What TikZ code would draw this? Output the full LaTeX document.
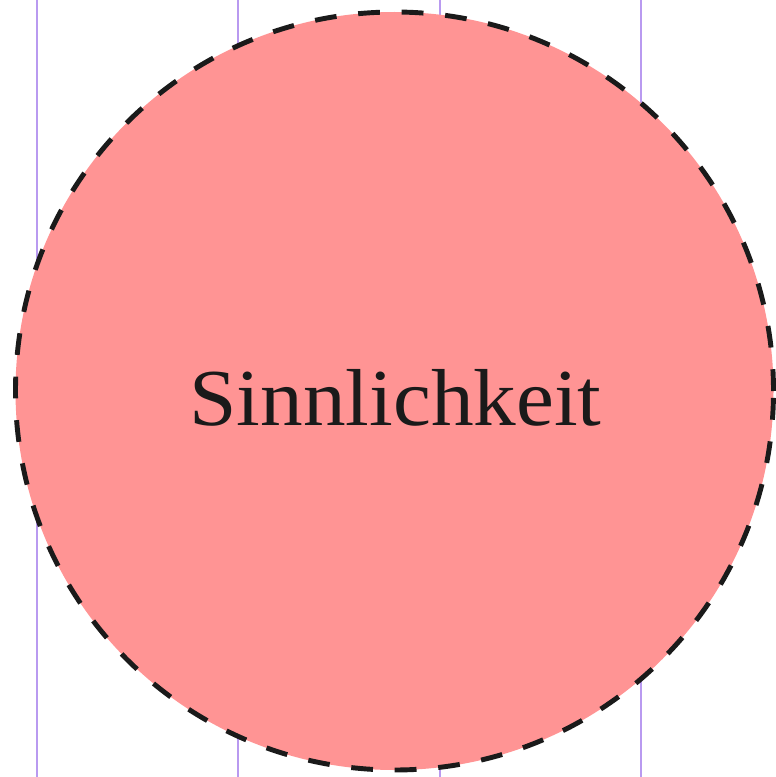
\documentclass[tikz,border=0pt]{standalone}
\usepackage{fontspec}
\setmainfont[FakeStretch=1.055]{Liberation Serif}
\usetikzlibrary{positioning}
\definecolor{sinnrot}{HTML}{FF9494}
\definecolor{tinte}{HTML}{1A1A1A}
\definecolor{lavendel}{HTML}{B99AF0}
\tikzset{
  raster/.style={draw=lavendel, line width=1.4pt},
  sinn/.style={circle, fill=sinnrot, draw=tinte, line width=2.8pt,
    dash pattern=on 12.4pt off 12.4pt, minimum size=758*0.02cm, inner sep=0pt,
    text=tinte, font=\fontsize{46}{52}\selectfont}
}
\begin{document}
\begin{tikzpicture}[x=0.02cm, y=-0.02cm]
  \useasboundingbox (0,0) rectangle (776,777);
  % Hilfslinien
  \foreach \xx in {37,238,440,641}
    \draw[raster] (\xx,0) -- (\xx,777);
  % Kreis
  \node[sinn] (sinnlichkeit) at (394.5,391) {};
  \node[text=tinte, font=\fontsize{46}{52}\selectfont, anchor=base]
    (sinnlabel) at (395.5,425) {Sinnlichkeit};
\end{tikzpicture}
\end{document}
